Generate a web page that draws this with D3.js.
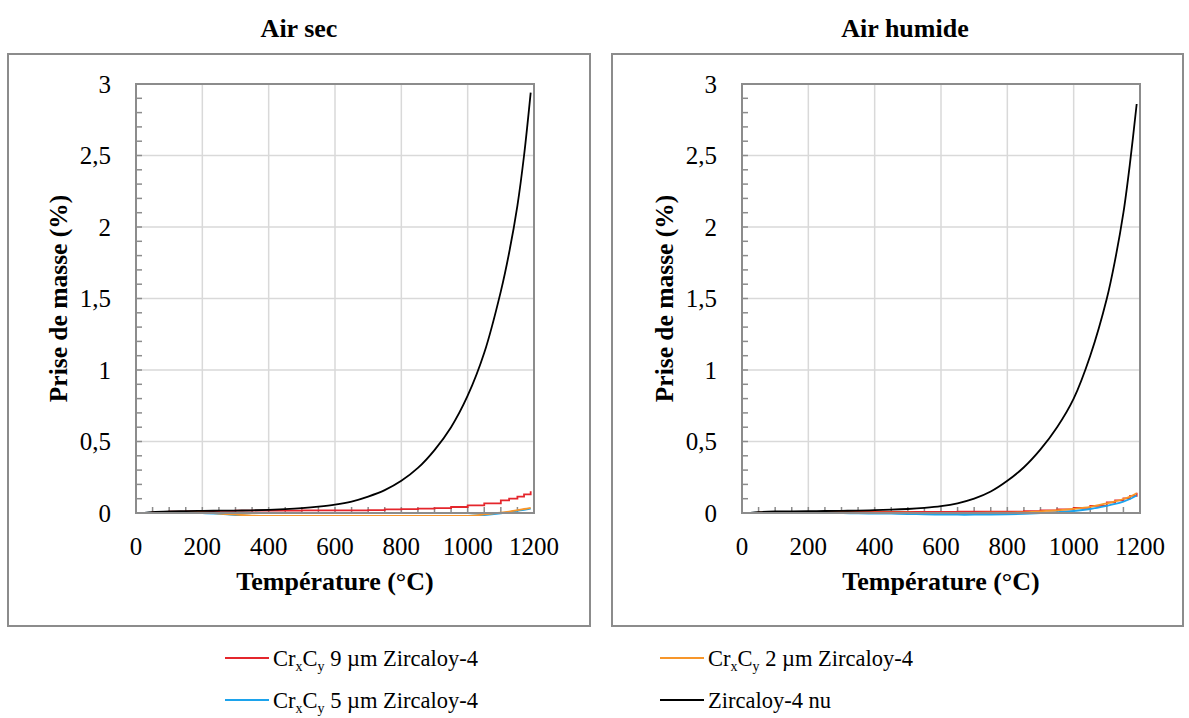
<!DOCTYPE html>
<html>
<head>
<meta charset="utf-8">
<script src="https://cdn.jsdelivr.net/npm/d3@7"></script>
<style>
  body { margin: 0; background: #fff; }
</style>
</head>
<body>
<div id="chart"></div>
<script>
// temperature grid (°C) shared by all series
const temps = [25, 50, 100, 150, 200, 250, 300, 350, 400, 450, 500, 550, 600, 650, 700, 750, 800, 850, 900, 950, 1000, 1050, 1100, 1125, 1150, 1170, 1190];

// Air sec - prise de masse (%)
const secNu  = [0, 0.006, 0.011, 0.013, 0.015, 0.016, 0.017, 0.019, 0.022, 0.027, 0.034, 0.044, 0.058, 0.08, 0.115, 0.16, 0.225, 0.315, 0.44, 0.6, 0.82, 1.12, 1.55, 1.82, 2.15, 2.5, 2.94];
const secCr9 = [0, 0.006, 0.01, 0.012, 0.014, 0.015, 0.016, 0.016, 0.017, 0.017, 0.018, 0.018, 0.019, 0.019, 0.02, 0.025, 0.027, 0.03, 0.034, 0.042, 0.054, 0.068, 0.088, 0.1, 0.115, 0.13, 0.152];
const secCr2 = [0, 0.003, 0.005, 0.005, 0.004, -0.004, -0.012, -0.018, -0.02, -0.02, -0.02, -0.02, -0.02, -0.02, -0.02, -0.02, -0.02, -0.02, -0.02, -0.02, -0.02, -0.01, 0.002, 0.01, 0.02, 0.028, 0.036];
const secCr5 = [0, 0.002, 0.003, 0.002, 0, -0.006, -0.014, -0.02, -0.02, -0.02, -0.02, -0.02, -0.02, -0.02, -0.02, -0.02, -0.02, -0.02, -0.02, -0.02, -0.02, -0.014, -0.002, 0.006, 0.015, 0.022, 0.03];

// Air humide - prise de masse (%)
const humNu  = [0, 0.006, 0.011, 0.012, 0.013, 0.014, 0.015, 0.017, 0.02, 0.023, 0.028, 0.036, 0.048, 0.068, 0.1, 0.15, 0.225, 0.32, 0.445, 0.6, 0.8, 1.1, 1.5, 1.77, 2.1, 2.45, 2.86];
const humCr9 = [0, 0.004, 0.007, 0.008, 0.008, 0.008, 0.008, 0.008, 0.008, 0.008, 0.008, 0.008, 0.008, 0.009, 0.009, 0.01, 0.01, 0.013, 0.019, 0.026, 0.036, 0.05, 0.074, 0.088, 0.102, 0.12, 0.142];
const humCr2 = [0, 0.003, 0.005, 0.005, 0.005, 0.004, 0.004, 0.003, 0.003, 0.002, 0.002, 0.001, 0.001, 0.001, 0.001, 0.002, 0.003, 0.005, 0.012, 0.019, 0.029, 0.043, 0.068, 0.082, 0.098, 0.115, 0.138];
const humCr5 = [0, 0.002, 0.003, 0.002, 0.001, 0, -0.001, -0.003, -0.004, -0.005, -0.007, -0.009, -0.011, -0.012, -0.012, -0.012, -0.01, -0.006, 0, 0.006, 0.014, 0.028, 0.05, 0.063, 0.08, 0.098, 0.122];

const xTicks = [0, 200, 400, 600, 800, 1000, 1200];
const yTicks = [0, 0.5, 1, 1.5, 2, 2.5, 3];
const titles = ["Air sec", "Air humide"];

const colors = { cr9: "#e4262c", cr2: "#f7962a", cr5: "#1ca3ec", nu: "#000000" };

const FONT = '"Liberation Serif", "Times New Roman", serif';

const W = 1189, H = 718;
const svg = d3.select("#chart").append("svg").attr("width", W).attr("height", H);

const fmt = d => String(d).replace(".", ",");

// text helper: inline styles so nothing overrides them
function addText(parent, size, bold) {
  return parent.append("text")
    .style("font-family", FONT)
    .style("font-size", size + "px")
    .style("font-weight", bold ? "bold" : "normal")
    .style("fill", "#000");
}

function drawPanel(idx, box, plotX, series) {
  const plot = { x: plotX, y: 84, w: 398, h: 429 };
  const cx = plot.x + plot.w / 2;

  svg.append("rect")
    .attr("x", box.x).attr("y", 54).attr("width", box.w).attr("height", 572)
    .attr("fill", "none").attr("stroke", "#8c8c8c").attr("stroke-width", 2);

  addText(svg, 26, true)
    .attr("x", cx - 36).attr("y", 37)
    .attr("text-anchor", "middle")
    .text(titles[idx]);

  const x = d3.scaleLinear().domain([0, 1200]).range([plot.x, plot.x + plot.w]);
  const y = d3.scaleLinear().domain([0, 3]).range([plot.y + plot.h, plot.y]);

  const g = svg.append("g");

  // grid
  g.selectAll(".vg").data(xTicks.slice(1, -1)).enter().append("line")
    .attr("x1", d => x(d)).attr("x2", d => x(d))
    .attr("y1", plot.y).attr("y2", plot.y + plot.h)
    .attr("stroke", "#d9d9d9").attr("stroke-width", 1.5);
  g.selectAll(".hg").data(yTicks.slice(1, -1)).enter().append("line")
    .attr("x1", plot.x).attr("x2", plot.x + plot.w)
    .attr("y1", d => y(d)).attr("y2", d => y(d))
    .attr("stroke", "#d9d9d9").attr("stroke-width", 1.5);

  // minor ticks
  const yMinor = d3.range(1, 30).map(i => i / 10);
  g.selectAll(".ym").data(yMinor).enter().append("line")
    .attr("x1", plot.x).attr("x2", plot.x + 6)
    .attr("y1", d => y(d)).attr("y2", d => y(d))
    .attr("stroke", "#8c8c8c").attr("stroke-width", 1.5);
  const xMinor = d3.range(1, 24).map(i => i * 50);
  g.selectAll(".xm").data(xMinor).enter().append("line")
    .attr("x1", d => x(d)).attr("x2", d => x(d))
    .attr("y1", plot.y + plot.h).attr("y2", plot.y + plot.h - 6)
    .attr("stroke", "#8c8c8c").attr("stroke-width", 1.5);

  // series
  const clipId = "clip" + idx;
  svg.append("clipPath").attr("id", clipId).append("rect")
    .attr("x", plot.x).attr("y", plot.y).attr("width", plot.w).attr("height", plot.h + 3);

  const line = d3.line().x((d, i) => x(temps[i])).y(d => y(d));
  const lines = svg.append("g").attr("clip-path", "url(#" + clipId + ")");
  series.forEach(s => {
    const curve = s.step ? d3.curveStepAfter : d3.curveCatmullRom.alpha(0.5);
    lines.append("path")
      .attr("d", line.curve(curve)(s.values))
      .attr("fill", "none").attr("stroke", s.color).attr("stroke-width", 1.8);
  });

  // plot frame
  svg.append("rect")
    .attr("x", plot.x).attr("y", plot.y).attr("width", plot.w).attr("height", plot.h)
    .attr("fill", "none").attr("stroke", "#8c8c8c").attr("stroke-width", 2);

  // tick labels
  xTicks.forEach(d => {
    addText(svg, 25, false)
      .attr("x", x(d)).attr("y", 555)
      .attr("text-anchor", "middle")
      .text(d);
  });
  yTicks.forEach(d => {
    addText(svg, 25, false)
      .attr("x", plot.x - 25).attr("y", y(d)).attr("dy", "0.35em")
      .attr("text-anchor", "end")
      .text(fmt(d));
  });

  // axis titles
  addText(svg, 26, true)
    .attr("x", cx).attr("y", 590)
    .attr("text-anchor", "middle")
    .text("Température (°C)");
  addText(svg, 25.5, true)
    .attr("transform", `translate(${plot.x - 69},${plot.y + plot.h / 2}) rotate(-90)`)
    .attr("text-anchor", "middle")
    .text("Prise de masse (%)");
}

drawPanel(0, { x: 8, w: 582 }, 136, [
  { values: secCr9, color: colors.cr9, step: true },
  { values: secCr5, color: colors.cr5 },
  { values: secCr2, color: colors.cr2 },
  { values: secNu, color: colors.nu }
]);
drawPanel(1, { x: 612, w: 571 }, 742, [
  { values: humCr9, color: colors.cr9, step: true },
  { values: humCr5, color: colors.cr5 },
  { values: humCr2, color: colors.cr2 },
  { values: humNu, color: colors.nu }
]);

// legend
const legendItems = [
  { num: "9", color: colors.cr9, x: 225, y: 658 },
  { num: "2", color: colors.cr2, x: 660, y: 658 },
  { num: "5", color: colors.cr5, x: 225, y: 700 },
  { num: null, color: colors.nu, x: 660, y: 700 }
];
const leg = svg.append("g");
legendItems.forEach(d => {
  leg.append("line")
    .attr("x1", d.x).attr("x2", d.x + 44).attr("y1", d.y).attr("y2", d.y)
    .attr("stroke", d.color).attr("stroke-width", 2);
  const t = addText(leg, 22.5, false).attr("x", d.x + 48).attr("y", d.y + 8);
  if (d.num) {
    t.append("tspan").text("Cr");
    t.append("tspan").style("font-size", "14px").attr("dy", 5).text("x");
    t.append("tspan").attr("dy", -5).text("C");
    t.append("tspan").style("font-size", "14px").attr("dy", 5).text("y");
    t.append("tspan").attr("dy", -5).text(" " + d.num + " µm Zircaloy-4");
  } else {
    t.text("Zircaloy-4 nu");
  }
});
</script>
</body>
</html>
